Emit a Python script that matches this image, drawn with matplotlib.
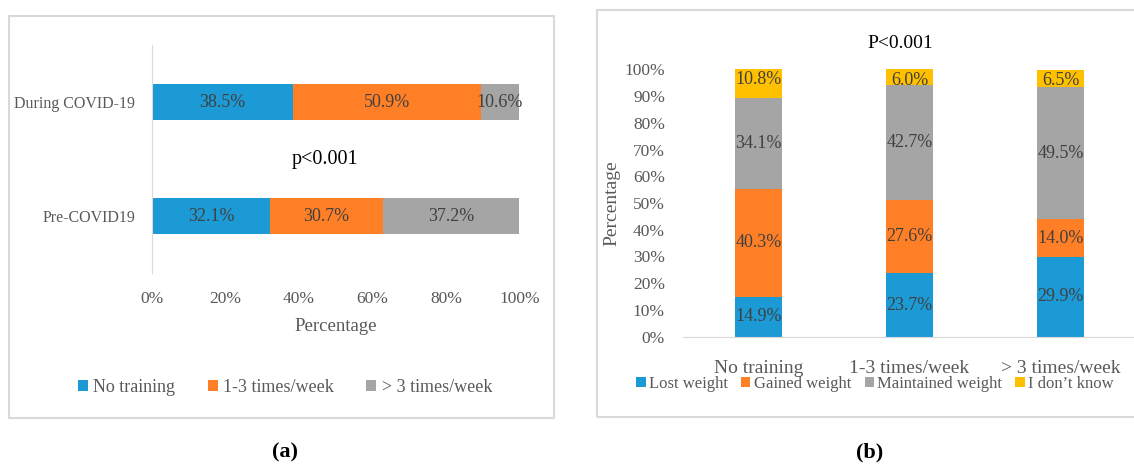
import matplotlib
matplotlib.use("Agg")
import matplotlib.pyplot as plt
import numpy as np
from matplotlib.patches import Rectangle

plt.rcParams["font.family"] = ["Liberation Serif", "DejaVu Serif"]

# panel (a) data
periods = ["Pre-COVID19", "During COVID-19"]
freq_labels = ["No training", "1-3 times/week", "> 3 times/week"]
no_training = [32.1, 38.5]
one_three = [30.7, 50.9]
more_three = [37.2, 10.6]

# panel (b) data
groups = ["No training", "1-3 times/week", "> 3 times/week"]
weight_labels = ["Lost weight", "Gained weight", "Maintained weight", "I don\u2019t know"]
lost = [14.9, 23.7, 29.9]
gained = [40.3, 27.6, 14.0]
maintained = [34.1, 42.7, 49.5]
dont_know = [10.8, 6.0, 6.5]

colors = ["#1C9AD6", "#FF7F27", "#A5A5A5", "#FFC000"]
lbl_col = "#404040"
tick_col = "#595959"
frame_col = "#D9D9D9"

fig = plt.figure(figsize=(11.34, 4.65), dpi=100)

# outer boxes round each panel
fig.patches.append(Rectangle((0.0079, 0.1011), 0.4806, 0.8645, transform=fig.transFigure,
                             fill=False, edgecolor=frame_col, lw=1.5))
fig.patches.append(Rectangle((0.5265, 0.1032), 0.48, 0.8753, transform=fig.transFigure,
                             fill=False, edgecolor=frame_col, lw=1.5))

# ---- (a) horizontal stacked bars
ax1 = fig.add_axes([0.134, 0.4129, 0.3241, 0.4903])
y = np.arange(len(periods))
left = np.zeros(len(periods))
for vals, c, name in zip([no_training, one_three, more_three], colors, freq_labels):
    bars = ax1.barh(y, vals, left=left, height=0.31, color=c, label=name)
    ax1.bar_label(bars, labels=[f"{v:.1f}%" for v in vals], label_type="center",
                  color=lbl_col, fontsize=13)
    left += np.array(vals)
ax1.set_xlim(0, 100)
ax1.set_ylim(-0.5, 1.5)
ax1.set_yticks(y)
ax1.set_yticklabels(periods)
ax1.set_xticks(np.arange(0, 101, 20))
ax1.set_xticklabels([f"{t}%" for t in range(0, 101, 20)])
ax1.tick_params(length=0, colors=tick_col, labelsize=12.5)
ax1.tick_params(axis="x", pad=13)
ax1.tick_params(axis="y", pad=12, labelsize=11.5)
for s in ["top", "right", "bottom"]:
    ax1.spines[s].set_visible(False)
ax1.spines["left"].set_color(frame_col)
ax1.set_xlabel("Percentage", color=tick_col, fontsize=13.5, labelpad=8)
ax1.text(0.47, 0.5, "p<0.001", transform=ax1.transAxes, ha="center", va="center",
         fontsize=14.5, color="black")
fig.legend(*ax1.get_legend_handles_labels(), loc="center", bbox_to_anchor=(285 / 1134, 1 - 387 / 465),
           ncol=3, frameon=False, fontsize=13, handlelength=0.55, handleheight=0.55,
           handletextpad=0.3, columnspacing=1.8, labelcolor=tick_col)
fig.text(285 / 1134, 1 - 452 / 465, "(a)", ha="center", va="center", fontsize=16, fontweight="bold")

# ---- (b) vertical stacked bars
ax2 = fig.add_axes([0.6023, 0.2759, 0.3995, 0.5751])
x = np.arange(len(groups))
bottom = np.zeros(len(groups))
for vals, c, name in zip([lost, gained, maintained, dont_know], colors, weight_labels):
    bars = ax2.bar(x, vals, bottom=bottom, width=0.31, color=c, label=name)
    if name == "I don\u2019t know":
        ax2.bar_label(bars, labels=[f"{v:.1f}%" for v in vals], label_type="edge",
                      padding=-14, color=lbl_col, fontsize=13)
    elif name == "Lost weight":
        for xi, b0, v in zip(x, bottom, vals):
            ax2.text(xi, max(b0 + v / 2, 6.5), f"{v:.1f}%", ha="center", va="center",
                     color=lbl_col, fontsize=13)
    else:
        ax2.bar_label(bars, labels=[f"{v:.1f}%" for v in vals], label_type="center",
                      color=lbl_col, fontsize=13)
    bottom += np.array(vals)
ax2.set_xlim(-0.5, 2.5)
ax2.set_ylim(0, 100)
ax2.set_xticks(x)
ax2.set_xticklabels(groups)
ax2.set_yticks(np.arange(0, 101, 10))
ax2.set_yticklabels([f"{t}%" for t in range(0, 101, 10)])
ax2.tick_params(length=0, colors=tick_col, labelsize=12.5)
ax2.tick_params(axis="x", pad=17, labelsize=14)
ax2.tick_params(axis="y", pad=13)
for s in ["top", "right", "left"]:
    ax2.spines[s].set_visible(False)
ax2.spines["bottom"].set_color(frame_col)
ax2.set_ylabel("Percentage", color=tick_col, fontsize=14, labelpad=3)
ax2.text(0.48, 1.095, "P<0.001", transform=ax2.transAxes, ha="center", va="center",
         fontsize=14, color="black")
fig.legend(*ax2.get_legend_handles_labels(), loc="center", bbox_to_anchor=(875 / 1134, 1 - 384 / 465),
           ncol=4, frameon=False, fontsize=12, handlelength=0.55, handleheight=0.55,
           handletextpad=0.2, columnspacing=0.8, labelcolor=tick_col)
fig.text(870 / 1134, 1 - 452 / 465, "(b)", ha="center", va="center", fontsize=16, fontweight="bold")

fig.savefig("out.png", dpi=100)
